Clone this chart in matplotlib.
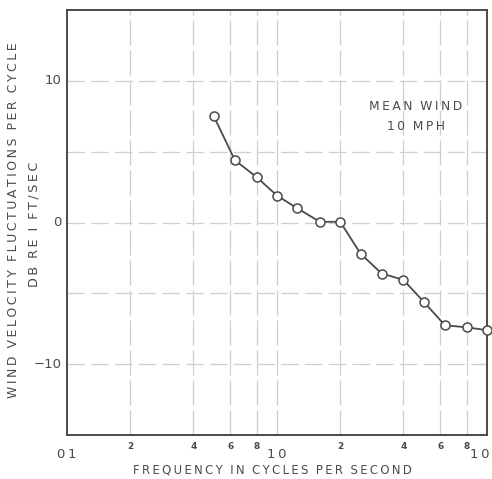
import matplotlib
matplotlib.use("Agg")
import matplotlib.pyplot as plt
import numpy as np

# Data (1/3-octave band centres)
freq = [0.5, 0.63, 0.8, 1.0, 1.25, 1.6, 2.0, 2.5, 3.15, 4.0, 5.0, 6.3, 8.0, 10.0]
level_db = [7.5, 4.4, 3.2, 1.9, 1.0, 0.05, 0.05, -2.2, -3.6, -4.05, -5.6, -7.25, -7.4, -7.6]

xtick_pos = [0.1, 0.2, 0.4, 0.6, 0.8, 1.0, 2, 4, 6, 8, 10]
xtick_lab = ["01", "2", "4", "6", "8", "10", "2", "4", "6", "8", "10"]
ytick_pos = [-10, 0, 10]
ytick_lab = ["\u221210", "0", "10"]
ygrid_pos = [-10, -5, 0, 5, 10]
xgrid_pos = [0.2, 0.4, 0.6, 0.8, 1.0, 2, 4, 6, 8]

TS = "\u2009"
def spaced(s):
    return TS.join(list(s))

def spaced_words(s):
    return "  ".join(spaced(w) for w in s.split())

ink = "#4a4a4a"
gridc = "#cfcfcf"

fig = plt.figure(figsize=(4.92, 4.79), dpi=100)
ax = fig.add_axes([67/492, 1-435/479, 420/492, 425/479])
ax.set_xscale("log")
ax.set_xlim(0.1, 10)
ax.set_ylim(-15, 15)

for y in ygrid_pos:
    ax.axhline(y, color=gridc, lw=0.9, dashes=(14, 5), zorder=1)
for x in xgrid_pos:
    ax.axvline(x, color=gridc, lw=0.9, dashes=(20, 4), zorder=1)

ax.plot(freq, level_db, color=ink, lw=1.3, marker="o", ms=6.5,
        mfc="white", mec=ink, mew=1.1, zorder=3, clip_on=False)

for s in ax.spines.values():
    s.set_color(ink)
    s.set_linewidth(1.4)

ax.set_xticks([])
ax.set_yticks([])
ax.minorticks_off()

# x tick labels
for i, (p, l) in enumerate(zip(xtick_pos, xtick_lab)):
    if l in ("01", "10"):
        dx = -5 if i == len(xtick_pos) - 1 else 0
        ax.annotate(spaced(l), (p, 0), xycoords=("data", "axes fraction"),
                    xytext=(dx, -9), textcoords="offset points",
                    ha="center", va="top", fontsize=9.5, color=ink)
    else:
        ax.annotate(l, (p, 0), xycoords=("data", "axes fraction"),
                    xytext=(0, -5), textcoords="offset points",
                    ha="center", va="top", fontsize=6.5, color=ink,
                    fontweight="bold")
# y tick labels
for p, l in zip(ytick_pos, ytick_lab):
    ax.annotate(l, (0, p), xycoords=("axes fraction", "data"),
                xytext=(-4, 0), textcoords="offset points",
                ha="right", va="center", fontsize=9.5, color=ink)

fig.text(272/492, 1-470/479, spaced_words("FREQUENCY IN CYCLES PER SECOND"),
         ha="center", va="center", fontsize=8.4, color=ink)

fig.text(14/492, 1-220/479, spaced_words("WIND VELOCITY FLUCTUATIONS PER CYCLE"),
         rotation=90, ha="center", va="center", fontsize=9, color=ink)
fig.text(34/492, 1-224/479, spaced_words("DB RE I FT/SEC"),
         rotation=90, ha="center", va="center", fontsize=9.2, color=ink)

fig.text(416/492, 1-107/479, spaced_words("MEAN WIND"),
         ha="center", va="center", fontsize=8.8, color=ink)
fig.text(416/492, 1-127/479, spaced_words("10 MPH"),
         ha="center", va="center", fontsize=8.8, color=ink)

fig.savefig("out.png", dpi=100)
